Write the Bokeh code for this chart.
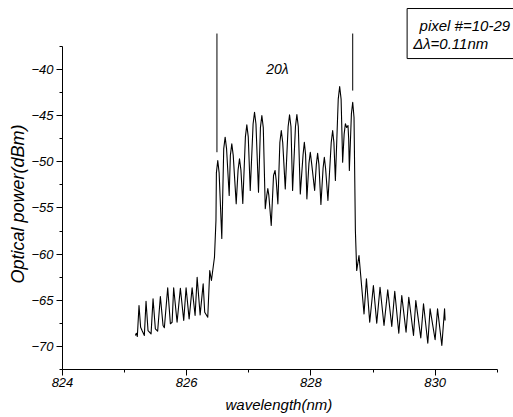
from bokeh.plotting import figure
from bokeh.models import FixedTicker, Range1d, Title
from bokeh.core.properties import value
from bokeh.embed import file_html
from bokeh.resources import INLINE

# Spectrum (wavelength nm, optical power dBm)
wavelength = [
    825.173, 825.189, 825.205, 825.232, 825.258, 825.281, 825.318, 825.345,
    825.377, 825.426, 825.458, 825.495, 825.532, 825.576, 825.619, 825.640,
    825.694, 825.737, 825.765, 825.790, 825.845, 825.898, 825.952, 825.990,
    826.039, 826.087, 826.135, 826.168, 826.216, 826.265, 826.290, 826.339,
    826.371, 826.398, 826.426, 826.447, 826.471,
    826.478, 826.500, 826.522, 826.565, 826.596, 826.619, 826.642, 826.684,
    826.703, 826.726, 826.749, 826.797, 826.827, 826.850, 826.873, 826.903,
    826.945, 826.968, 826.991, 827.023, 827.069, 827.092, 827.115, 827.156,
    827.187, 827.210, 827.233, 827.265, 827.290, 827.306, 827.322, 827.361,
    827.398, 827.423, 827.441, 827.468, 827.500, 827.523, 827.546, 827.587,
    827.633, 827.656, 827.679, 827.705, 827.751, 827.774, 827.797, 827.829,
    827.874, 827.894, 827.914, 827.935, 827.968, 827.990, 828.012, 828.060,
    828.087, 828.108, 828.129, 828.161, 828.196, 828.216, 828.236, 828.274,
    828.327, 828.350, 828.370, 828.394, 828.440, 828.463, 828.486, 828.511,
    828.535, 828.555, 828.576, 828.597, 828.608, 828.619, 828.652, 828.673,
    828.694, 828.716, 828.737,
    828.774, 828.855, 828.894, 828.947, 829.006, 829.060, 829.113, 829.177,
    829.237, 829.302, 829.350, 829.415, 829.463, 829.532, 829.576, 829.652,
    829.689, 829.769, 829.813, 829.882, 829.919, 830.000, 830.039, 830.108,
    830.152, 830.161,
]
power = [
    -68.82, -68.57, -68.93, -65.57, -67.92, -68.28, -68.82, -65.10,
    -68.28, -68.64, -64.84, -68.09, -68.35, -64.59, -67.74, -67.98,
    -63.65, -67.55, -67.38, -63.65, -67.38, -63.69, -67.19, -63.65,
    -67.01, -63.65, -66.65, -62.50, -66.58, -63.22, -66.30, -66.84,
    -61.78, -62.86, -61.42, -60.34, -56.36,
    -51.20, -49.86, -51.20, -58.31, -48.60, -47.33, -48.60, -53.65,
    -49.30, -48.05, -49.30, -54.55, -50.90, -49.67, -50.90, -54.52,
    -47.30, -45.99, -47.30, -53.11, -45.90, -44.63, -45.90, -53.29,
    -46.30, -44.98, -46.30, -55.09, -53.60, -52.89, -53.60, -56.90,
    -51.48, -50.94, -52.00, -54.55, -47.90, -46.61, -47.90, -52.93,
    -46.20, -44.91, -46.20, -53.11, -46.20, -44.88, -46.20, -53.47,
    -49.20, -47.88, -49.20, -54.01, -50.20, -48.96, -50.20, -53.11,
    -50.30, -49.07, -50.30, -54.63, -50.70, -49.50, -50.70, -54.19,
    -47.90, -46.61, -47.90, -52.03, -43.20, -41.84, -43.20, -50.04,
    -47.00, -45.88, -46.28, -46.07, -47.50, -50.94, -44.80, -43.54,
    -45.20, -57.44, -61.78,
    -60.15, -66.47, -62.68, -67.38, -63.40, -67.49, -63.59, -67.74,
    -63.87, -67.84, -64.02, -68.57, -64.49, -68.46, -64.67, -68.82,
    -65.03, -69.07, -65.38, -69.65, -65.93, -69.28, -65.93, -69.90,
    -65.93, -67.19,
]

x_major_ticks = [824, 826, 828, 830]
x_minor_ticks = [825, 827, 829, 831]
y_major_ticks = [-70, -65, -60, -55, -50, -45, -40]
y_minor_ticks = [-72.5, -67.5, -62.5, -57.5, -52.5, -47.5, -42.5, -37.5]

marker_wavelengths = [826.487, 828.673]
marker_tops = [-36.1, -36.1]
marker_bottoms = [-48.96, -42.28]

x_title = "wavelength(nm)"
y_title = "Optical power(dBm)"
annotation_text = "20\u03bb"
legend_lines = ["pixel #=10-29", "\u0394\u03bb=0.11nm"]

FONT = "Liberation Sans"
X_END = 831.262

p = figure(width=513, height=417, output_backend="svg", toolbar_location=None,
           x_range=Range1d(824, X_END), y_range=Range1d(-72.5, -32.52),
           min_border_left=62, min_border_right=0, min_border_top=0,
           min_border_bottom=48)
p.outline_line_color = None
p.xgrid.visible = False
p.ygrid.visible = False
p.background_fill_color = "white"
p.border_fill_color = "white"

# spectrum
p.line(wavelength, power, line_color="black", line_width=1.1, line_join="round")

# marker lines
p.segment(x0=marker_wavelengths, y0=marker_tops, x1=marker_wavelengths,
          y1=marker_bottoms, line_color="black", line_width=1)

# annotation text
p.text(x=[827.28], y=[-39.9], text=[annotation_text], text_font=value(FONT),
       text_font_style="italic", text_font_size="14px", text_baseline="middle",
       text_color="black")

# legend-like box (open on the right, running to the page edge)
p.segment(x0=[829.549, 829.549, 829.549], y0=[-33.39, -33.39, -38.81],
          x1=[829.549, X_END, X_END], y1=[-38.81, -33.39, -38.81],
          line_color="black", line_width=1)
p.text(x=[829.75], y=[-35.23], text=[legend_lines[0]], text_font=value(FONT),
       text_font_style="italic", text_font_size="15px", text_baseline="middle",
       text_color="black")
p.text(x=[829.646], y=[-37.18], text=[legend_lines[1]], text_font=value(FONT),
       text_font_style="italic", text_font_size="15px", text_baseline="middle",
       text_color="black")

for ax in (p.xaxis[0], p.yaxis[0]):
    ax.axis_line_color = "black"
    ax.major_tick_line_color = "black"
    ax.minor_tick_line_color = "black"
    ax.major_tick_out = 6
    ax.major_tick_in = 0
    ax.minor_tick_out = 3
    ax.minor_tick_in = 0
    ax.major_label_text_font = FONT
    ax.major_label_text_font_style = "italic"
    ax.major_label_text_font_size = "13px"
    ax.major_label_text_color = "black"

p.xaxis[0].ticker = FixedTicker(ticks=x_major_ticks, minor_ticks=x_minor_ticks)
p.yaxis[0].ticker = FixedTicker(ticks=y_major_ticks, minor_ticks=y_minor_ticks)
p.xaxis[0].bounds = (824, 831)
p.yaxis[0].bounds = (-72.5, -37.5)
p.xaxis[0].major_label_standoff = 2
p.yaxis[0].major_label_standoff = 3

# axis titles placed as side titles so they can be offset like the reference
p.add_layout(Title(text=x_title, align="left", offset=163, standoff=8,
                   text_font=FONT, text_font_style="italic",
                   text_font_size="15px", text_color="black"), "below")
p.add_layout(Title(text=y_title, align="left", offset=86, standoff=2,
                   text_font=FONT, text_font_style="italic",
                   text_font_size="18px", text_color="black"), "left")

open("out.html", "w").write(file_html(p, INLINE))
